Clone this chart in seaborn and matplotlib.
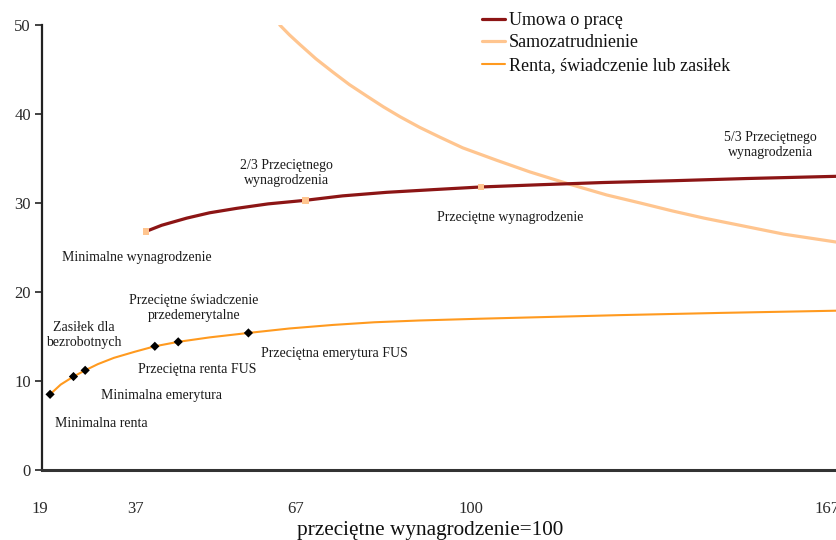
import matplotlib
matplotlib.use("Agg")
import matplotlib.pyplot as plt
import matplotlib.transforms as mtransforms
import pandas as pd
import seaborn as sns

# Income level relative to the average wage (average wage = 100) and the tax wedge, %
umowa_x = [37, 40, 44.7, 49, 54.1, 60, 67, 74, 82.3, 91, 100, 111, 123, 136, 150, 167]
umowa_y = [26.8, 27.5, 28.3, 28.9, 29.4, 29.9, 30.3, 30.8, 31.2, 31.5, 31.8, 32.05,
           32.3, 32.5, 32.75, 33.0]

samo_x = [62.2, 64, 66, 69, 72.2, 75.3, 78.6, 81.7, 84.8, 88.5, 92.3, 96.6, 103,
          109.2, 116.2, 123.7, 130, 136.1, 142, 148.7, 157, 167]
samo_y = [50.0, 48.9, 47.8, 46.2, 44.7, 43.3, 42.0, 40.8, 39.7, 38.5, 37.4, 36.2, 34.8,
          33.5, 32.2, 30.9, 30.0, 29.1, 28.3, 27.5, 26.5, 25.6]

renta_x = [19, 21, 23.4, 25.6, 28, 31, 35, 38.7, 43.1, 49, 56.3, 64, 72.2, 80, 88.5,
           100, 113, 126, 145, 167]
renta_y = [8.5, 9.6, 10.5, 11.2, 11.9, 12.6, 13.3, 13.9, 14.4, 14.9, 15.4, 15.9, 16.3,
           16.6, 16.8, 17.0, 17.2, 17.4, 17.65, 17.9]

# Points of each series that carry a marker
umowa_marked_x = [37, 67, 100]
renta_marked_x = [19, 23.4, 25.6, 38.7, 43.1, 56.3]

series_names = ["Umowa o pracę", "Samozatrudnienie", "Renta, świadczenie lub zasiłek"]
x_ticks = [19, 37, 67, 100, 167]
y_ticks = [0, 10, 20, 30, 40, 50]
x_label = "przeciętne wynagrodzenie=100"

# Point labels: text and its anchor (x, y) on the chart
point_labels = [
    ("2/3 Przeciętnego\nwynagrodzenia", 63.5, 33.4),
    ("Minimalne wynagrodzenie", 35.3, 23.9),
    ("Przeciętne wynagrodzenie", 105.5, 28.4),
    ("5/3 Przeciętnego\nwynagrodzenia", 154.5, 36.5),
    ("Przeciętne świadczenie\nprzedemerytalne", 46.1, 18.2),
    ("Zasiłek dla\nbezrobotnych", 25.4, 15.2),
    ("Przeciętna renta FUS", 46.6, 11.3),
    ("Minimalna emerytura", 39.9, 8.4),
    ("Minimalna renta", 28.6, 5.2),
    ("Przeciętna emerytura FUS", 72.4, 13.1),
]

c_umowa = "#8c1515"
c_samo = "#ffc58f"
c_renta = "#ff9a1f"

sns.set_theme(style="white")
plt.rcParams["font.family"] = ["Liberation Serif", "DejaVu Serif"]

df_umowa = pd.DataFrame({"x": umowa_x, "y": umowa_y})
df_samo = pd.DataFrame({"x": samo_x, "y": samo_y})
df_renta = pd.DataFrame({"x": renta_x, "y": renta_y})

fig = plt.figure(figsize=(8.37, 5.40), dpi=100)
ax = fig.add_axes([42 / 837, 1 - 470 / 540, 1 - 42 / 837, 445 / 540])

sns.lineplot(data=df_umowa, x="x", y="y", ax=ax, color=c_umowa, lw=2.3,
             sort=False, label=series_names[0], zorder=3)
sns.lineplot(data=df_samo, x="x", y="y", ax=ax, color=c_samo, lw=2.3,
             sort=False, label=series_names[1], zorder=2)
sns.lineplot(data=df_renta, x="x", y="y", ax=ax, color=c_renta, lw=1.5,
             sort=False, label=series_names[2], zorder=3)

sns.scatterplot(data=df_umowa[df_umowa["x"].isin(umowa_marked_x)], x="x", y="y",
                ax=ax, color=c_samo, marker="s", s=22, edgecolor="none",
                zorder=4, legend=False)
sns.scatterplot(data=df_renta[df_renta["x"].isin(renta_marked_x)], x="x", y="y",
                ax=ax, color="black", marker="D", s=22, edgecolor="none",
                zorder=4, legend=False)

for text, tx, ty in point_labels:
    ax.text(tx, ty, text, ha="center", va="center", fontsize=10,
            color="#1a1a1a", linespacing=1.2)

ax.set_xlim(17.48, 166.9)
ax.set_ylim(0, 50)
ax.set_xticks(x_ticks)
ax.set_yticks(y_ticks)
ax.set_xticklabels([str(v) for v in x_ticks])
ax.set_yticklabels([str(v) for v in y_ticks])
ax.tick_params(axis="x", length=0, pad=22, labelsize=12, labelcolor="#2a2a2a")
ax.tick_params(axis="y", length=5, width=1.2, direction="out", pad=3,
               labelsize=12, labelcolor="#2a2a2a", color="#222222", left=True)
shift = mtransforms.ScaledTranslation(-10 / 100, 0, fig.dpi_scale_trans)
for lab in ax.get_xticklabels():
    lab.set_transform(lab.get_transform() + shift)
    lab.set_clip_on(False)

ax.set_xlabel(x_label, fontsize=15.3, color="#111111")
ax.xaxis.set_label_coords(0.488, -0.135)
ax.xaxis.label.set_va("center")
ax.set_ylabel("")

for side in ["top", "right"]:
    ax.spines[side].set_visible(False)
ax.spines["left"].set_color("#222222")
ax.spines["left"].set_linewidth(1.6)
ax.spines["bottom"].set_color("#333333")
ax.spines["bottom"].set_linewidth(2.2)
ax.grid(False)

leg = ax.legend(loc="upper left", bbox_to_anchor=(482 / 837, 1 - 12 / 540),
                bbox_transform=fig.transFigure, frameon=False, fontsize=13,
                handlelength=1.3, handletextpad=0.2, labelspacing=0.3,
                borderpad=0, borderaxespad=0)
for t in leg.get_texts():
    t.set_color("#111111")

fig.savefig("out.png", dpi=100)
